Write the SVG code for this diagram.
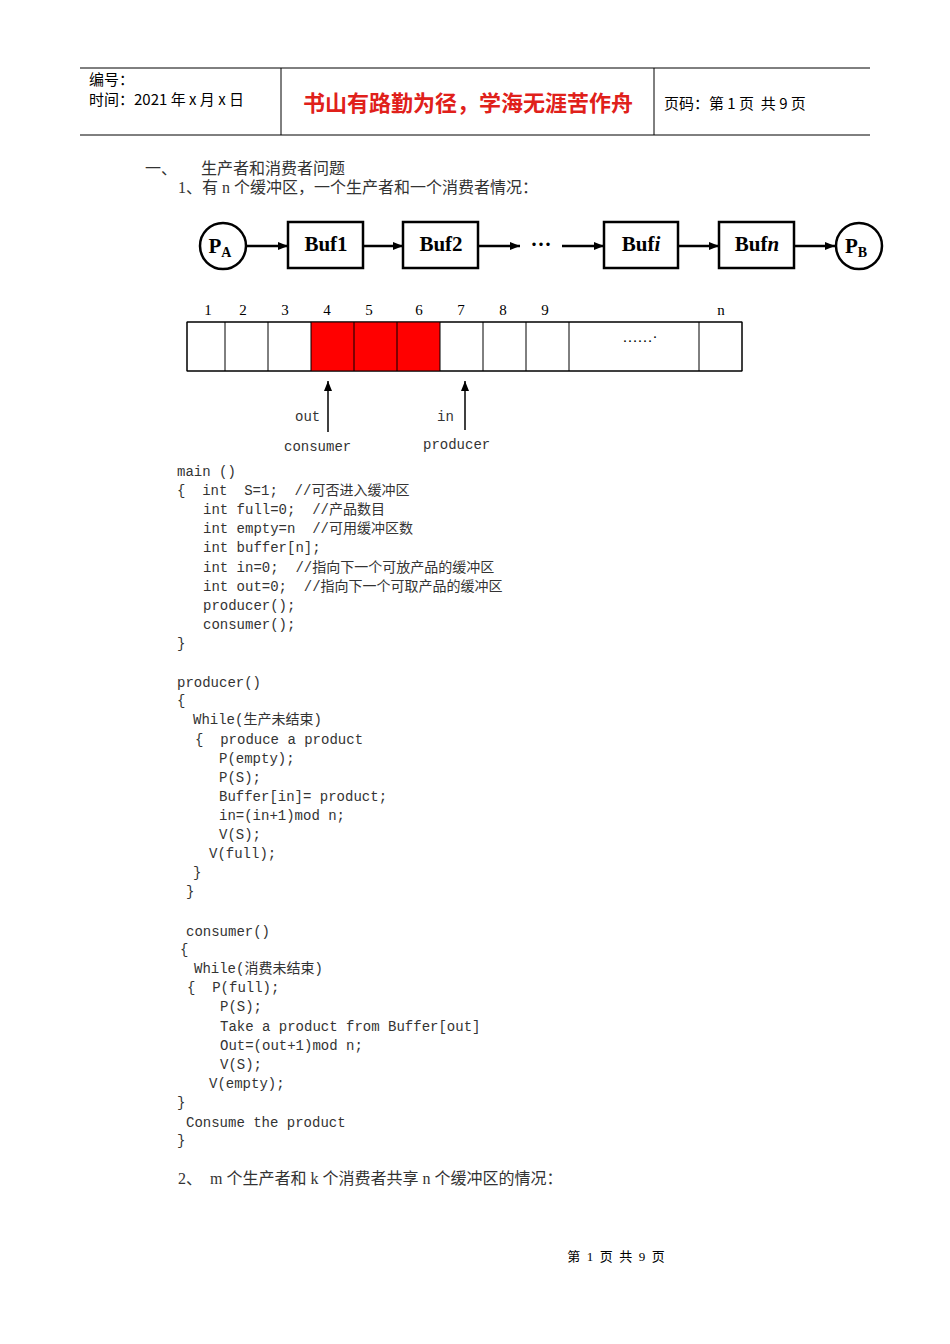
<svg xmlns="http://www.w3.org/2000/svg" width="950" height="1344" viewBox="0 0 950 1344">
<style>
.h{font-family:"Noto Sans CJK SC","Liberation Sans",sans-serif;font-size:15px;fill:#000;white-space:pre}
.c{font-family:"Liberation Mono","Noto Sans CJK SC",monospace;font-size:14px;fill:#333;white-space:pre}
.s{font-family:"Liberation Serif","Noto Sans CJK SC",serif;font-size:16px;fill:#333;white-space:pre}
.b{font-family:"Liberation Serif",serif;font-size:21px;font-weight:bold;text-anchor:middle}
.box{fill:#fff;stroke:#000;stroke-width:2.5}
.cell{stroke:#000;stroke-width:1}
.ln{stroke:#000;stroke-width:2.5}
.n{font-family:"Liberation Serif",serif;font-size:15px;text-anchor:middle}
</style>
<defs><marker id="a" markerWidth="10" markerHeight="8" refX="10" refY="4" orient="auto" markerUnits="userSpaceOnUse"><path d="M0,0L10,4L0,8z"/></marker></defs>
<rect width="950" height="1344" fill="#fff"/>
<g id="header">
<line x1="80" y1="68" x2="870" y2="68" stroke="#000"/><line x1="80" y1="135" x2="870" y2="135" stroke="#000"/>
<line x1="281" y1="68" x2="281" y2="135" stroke="#000"/><line x1="654" y1="68" x2="654" y2="135" stroke="#000"/>
<text x="89" y="85" class="h">编号：</text><text x="89" y="105" class="h">时间：2021 年 x 月 x 日</text>
<text x="468" y="111" text-anchor="middle" font-family="Noto Sans CJK SC,sans-serif" font-size="22" font-weight="bold" fill="#e0201a">书山有路勤为径，学海无涯苦作舟</text>
<text x="664" y="109" class="h">页码：第 1 页  共 9 页</text>
</g>
<text x="145" y="174" class="s">一、      生产者和消费者问题</text>
<text x="178" y="193" class="s">1、有 n 个缓冲区，一个生产者和一个消费者情况：</text>
<g id="connectors">
<line x1="247" y1="246" x2="288" y2="246" class="ln" marker-end="url(#a)"/>
<line x1="363" y1="246" x2="403" y2="246" class="ln" marker-end="url(#a)"/>
<line x1="478" y1="246" x2="520" y2="246" class="ln" marker-end="url(#a)"/>
<line x1="562" y1="246" x2="604" y2="246" class="ln" marker-end="url(#a)"/>
<line x1="678" y1="246" x2="719" y2="246" class="ln" marker-end="url(#a)"/>
<line x1="794" y1="246" x2="835" y2="246" class="ln" marker-end="url(#a)"/>
<line x1="328" y1="432" x2="328" y2="381" stroke="#000" stroke-width="1.5" marker-end="url(#a)"/>
<line x1="465" y1="430" x2="465" y2="381" stroke="#000" stroke-width="1.5" marker-end="url(#a)"/>
</g>
<g id="PA"><circle cx="223" cy="246" r="23" class="box"/><text x="220" y="253" class="b">P<tspan font-size="14" dy="4">A</tspan></text></g>
<g id="buf1"><rect x="288" y="222" width="75" height="46" class="box"/><text x="326" y="251" class="b">Buf1</text></g>
<g id="buf2"><rect x="403" y="222" width="75" height="46" class="box"/><text x="441" y="251" class="b">Buf2</text></g>
<text x="541" y="251" class="b">···</text>
<g id="bufi"><rect x="604" y="222" width="74" height="46" class="box"/><text x="641" y="251" class="b">Buf<tspan font-style="italic">i</tspan></text></g>
<g id="bufn"><rect x="719" y="222" width="75" height="46" class="box"/><text x="757" y="251" class="b">Buf<tspan font-style="italic">n</tspan></text></g>
<g id="PB"><circle cx="859" cy="246" r="23" class="box"/><text x="856" y="253" class="b">P<tspan font-size="14" dy="4">B</tspan></text></g>
<g id="array">
<rect x="187" y="322" width="555" height="49" fill="#fff" class="cell"/>
<rect x="311" y="322" width="129" height="49" fill="#f00"/>
<path d="M225,322V371M268,322V371M311,322V371M354,322V371M397,322V371M440,322V371M483,322V371M526,322V371M569,322V371M699,322V371M187,322H742V371H187Z" fill="none" class="cell"/>
<text x="208" y="315" class="n">1</text><text x="243" y="315" class="n">2</text><text x="285" y="315" class="n">3</text><text x="327" y="315" class="n">4</text><text x="369" y="315" class="n">5</text><text x="419" y="315" class="n">6</text><text x="461" y="315" class="n">7</text><text x="503" y="315" class="n">8</text><text x="545" y="315" class="n">9</text><text x="721" y="315" class="n">n</text>
<text x="640" y="342" class="n" font-size="10">……·</text>
</g>
<g>
<text x="295" y="421" class="c" font-size="15">out</text><text x="437" y="421" class="c" font-size="15">in</text>
<text x="284" y="451" class="c" font-size="15">consumer</text><text x="423" y="449" class="c" font-size="15">producer</text>
</g>
<g id="code">
<text x="177" y="476" class="c">main ()</text>
<text x="177" y="495" class="c">{  int  S=1;  //可否进入缓冲区</text>
<text x="203" y="514" class="c">int full=0;  //产品数目</text>
<text x="203" y="533" class="c">int empty=n  //可用缓冲区数</text>
<text x="203" y="552" class="c">int buffer[n];</text>
<text x="203" y="572" class="c">int in=0;  //指向下一个可放产品的缓冲区</text>
<text x="203" y="591" class="c">int out=0;  //指向下一个可取产品的缓冲区</text>
<text x="203" y="610" class="c">producer();</text>
<text x="203" y="629" class="c">consumer();</text>
<text x="177" y="648" class="c">}</text>
<text x="177" y="687" class="c">producer()</text>
<text x="177" y="705" class="c">{</text>
<text x="193" y="724" class="c">While(生产未结束)</text>
<text x="195" y="744" class="c">{  produce a product</text>
<text x="219" y="763" class="c">P(empty);</text>
<text x="219" y="782" class="c">P(S);</text>
<text x="219" y="801" class="c">Buffer[in]= product;</text>
<text x="219" y="820" class="c">in=(in+1)mod n;</text>
<text x="219" y="839" class="c">V(S);</text>
<text x="209" y="858" class="c">V(full);</text>
<text x="193" y="877" class="c">}</text>
<text x="186" y="896" class="c">}</text>
<text x="186" y="936" class="c">consumer()</text>
<text x="180" y="954" class="c">{</text>
<text x="194" y="973" class="c">While(消费未结束)</text>
<text x="187" y="992" class="c">{  P(full);</text>
<text x="220" y="1011" class="c">P(S);</text>
<text x="220" y="1031" class="c">Take a product from Buffer[out]</text>
<text x="220" y="1050" class="c">Out=(out+1)mod n;</text>
<text x="220" y="1069" class="c">V(S);</text>
<text x="209" y="1088" class="c">V(empty);</text>
<text x="177" y="1107" class="c">}</text>
<text x="186" y="1127" class="c">Consume the product</text>
<text x="177" y="1145" class="c">}</text>
</g>
<text x="178" y="1184" class="s">2、  m 个生产者和 k 个消费者共享 n 个缓冲区的情况：</text>
<text x="616" y="1261" text-anchor="middle" font-family="Liberation Serif,Noto Sans CJK SC,serif" font-size="13" style="white-space:pre">第  1  页  共  9  页</text>
</svg>
